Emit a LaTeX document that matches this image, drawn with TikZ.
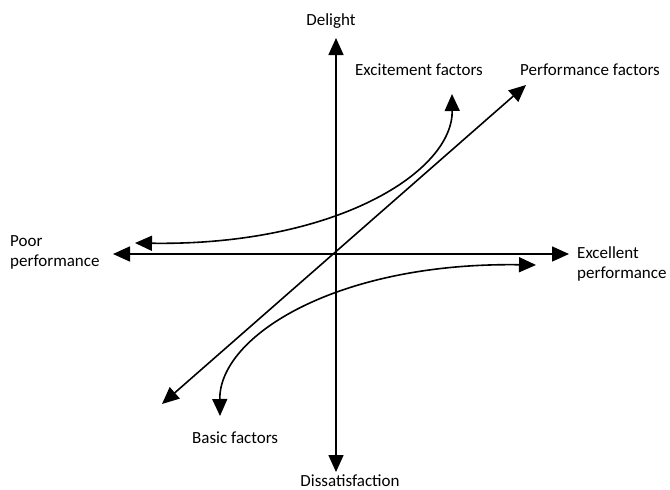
\documentclass[tikz,border=0pt]{standalone}
\usepackage{fontspec}
\setmainfont{Carlito}
\usetikzlibrary{arrows.meta}
\begin{document}
\begin{tikzpicture}[x=1pt,y=-1pt,
  ax/.style={line width=1.6pt,{Triangle[length=17pt,width=15pt]}-{Triangle[length=17pt,width=15pt]}},
  lbl/.style={font=\fontsize{17}{19}\selectfont,inner sep=0pt}]
\useasboundingbox (0,0) rectangle (670,490);
\fill[white] (0,0) rectangle (670,490);
% axis endpoints
\coordinate (top) at (336,38);
\coordinate (bot) at (336,472);
\coordinate (left) at (113,254);
\coordinate (right) at (569,254);
\coordinate (dl) at (162,404);
\coordinate (ur) at (526,85);
\coordinate (e0) at (135,243);
\coordinate (e1) at (452,94);
\coordinate (b0) at (536,265);
\coordinate (b1) at (220,416);
\draw[ax] (top) -- (bot);
\draw[ax] (left) -- (right);
\draw[ax] (dl) -- (ur);
\draw[ax] (e0) .. controls (335,246) and (453,172) .. (e1);
\draw[ax] (b0) .. controls (337,262) and (219,336) .. (b1);
% labels
\node[lbl,anchor=base] (delight) at (331,25) {Delight};
\node[lbl,anchor=base] (dis) at (350,486) {Dissatisfaction};
\node[lbl,anchor=base west] (exc) at (355,75) {Excitement factors};
\node[lbl,anchor=base west] (perf) at (520,75) {Performance factors};
\node[lbl,anchor=base west] (poor) at (10,246) {Poor};
\node[lbl,anchor=base west] (poor2) at (10,266) {performance};
\node[lbl,anchor=base west] (excel) at (577,258) {Excellent};
\node[lbl,anchor=base west] (excel2) at (577,278) {performance};
\node[lbl,anchor=base west] (basic) at (192,443) {Basic factors};
\end{tikzpicture}
\end{document}
